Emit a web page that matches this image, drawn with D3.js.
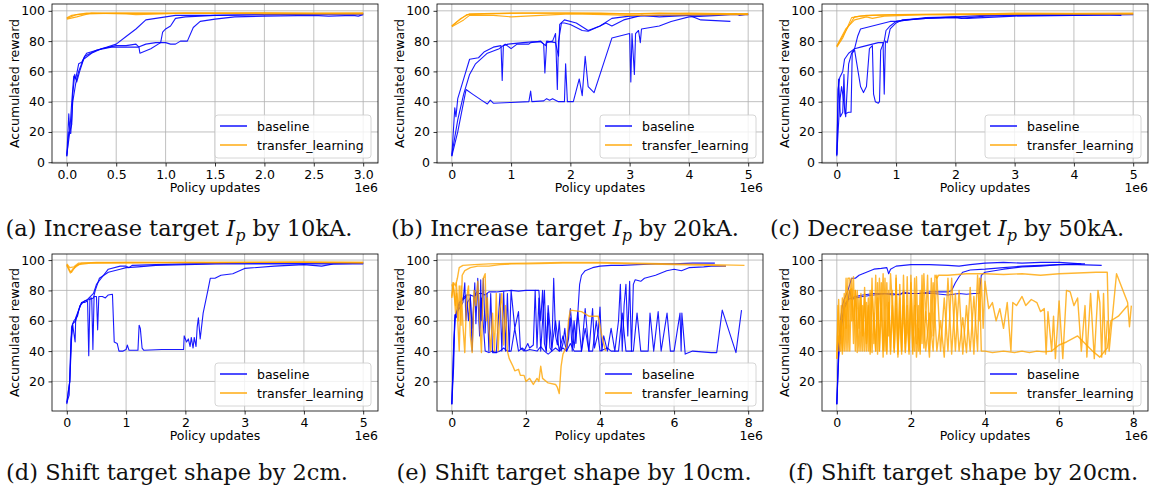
<!DOCTYPE html>
<html>
<head>
<meta charset="utf-8">
<script src="https://cdn.jsdelivr.net/npm/d3@7"></script>
<style>
  body { margin: 0; background: #fff; }
  svg { display: block; }
  .tick text { font-family: "DejaVu Sans", sans-serif; font-size: 12.5px; fill: #000; }
</style>
</head>
<body>
<svg id="chart" width="1153" height="495"></svg>
<script>
// x values are policy updates in units of 1e6, y is accumulated reward

// (a) increase target Ip by 10kA
var baselineA = [
  [[0,4],[0.02,32],[0.03,20],[0.05,40],[0.07,57],[0.09,55],[0.12,65],[0.15,66],[0.2,72],[0.3,74],[0.4,76],[0.5,78],[0.6,83],[0.7,88],[0.8,94],[1.0,96],[1.1,97],[1.2,97],[1.5,97],[2,97.5],[2.5,98],[3,98]],
  [[0,5],[0.03,20],[0.05,25],[0.06,45],[0.08,58],[0.1,53],[0.13,60],[0.17,68],[0.25,72],[0.35,75],[0.5,77],[0.6,77],[0.7,78],[0.73,76],[0.74,72],[0.85,75],[0.95,79],[0.97,86],[1.0,88],[1.05,90],[1.1,95],[1.2,96],[1.5,97],[2.0,97.5],[3.0,98]],
  [[0,4],[0.02,20],[0.04,19],[0.06,40],[0.09,52],[0.12,60],[0.18,70],[0.3,74],[0.45,76],[0.6,76],[0.72,76],[0.8,78],[0.9,79],[1.0,79],[1.05,78],[1.1,78],[1.15,80],[1.22,80],[1.28,89],[1.35,93],[1.5,94.5],[1.7,96],[2.0,96.5],[2.5,97],[2.65,96.5],[2.9,97],[2.95,96.5],[3.0,97.5]]
];
var transferA = [
  [[0,95],[0.1,97.5],[0.2,98],[0.5,98.5],[1,98.5],[2,98.5],[3,98.5]],
  [[0,94.5],[0.1,96],[0.25,98.5],[0.6,98],[0.7,97.5],[1.2,98.5],[2,98],[3,98]],
  [[0,95.5],[0.05,97],[0.2,98.5],[1,98.3],[2,98.7],[2.5,98.3],[3,98.5]]
];

// (b) increase target Ip by 20kA
var baselineB = [
  [[0,4],[0.05,36],[0.07,30],[0.1,42],[0.2,55],[0.3,68],[0.45,69],[0.55,73],[0.7,76],[0.83,77],[0.85,54],[0.87,77],[0.95,78],[1.2,79],[1.35,79.5],[1.5,79.5],[1.55,78],[1.57,59],[1.6,79],[1.7,80],[1.75,85],[1.78,48],[1.8,80],[1.85,92],[1.9,92],[2.0,91],[2.2,87],[2.3,86.5],[2.5,90],[2.7,95],[3.0,96.5],[3.5,97],[4.0,97],[4.2,94],[4.7,93]],
  [[0,5],[0.1,28],[0.2,45],[0.3,58],[0.4,65],[0.6,72],[0.8,75],[0.9,78],[1.0,75],[1.1,78],[1.3,78],[1.33,79],[1.5,80],[1.58,77],[1.6,80],[1.75,79],[1.8,70],[1.82,91],[1.9,94],[2.1,92],[2.3,87],[2.5,90],[2.6,92],[2.7,90],[2.9,94],[3.2,97],[3.5,96],[4,97],[4.5,97.5],[5,97.5]],
  [[0,4],[0.1,20],[0.2,40],[0.24,48],[0.35,45],[0.5,41],[0.6,38.5],[0.65,41],[0.7,39],[1.0,39.5],[1.3,40],[1.33,47],[1.35,40],[1.55,40.5],[1.6,42],[1.65,41],[1.7,42],[1.8,40],[1.9,40],[1.92,65],[1.95,40],[2.05,40],[2.15,55],[2.2,44],[2.25,70],[2.3,50],[2.4,46],[2.7,82],[3.0,85],[3.02,53],[3.04,85],[3.08,58],[3.1,85],[3.15,87],[3.18,79],[3.2,88],[3.5,90],[3.7,93],[4.0,96],[4.5,97],[4.8,98],[4.85,97],[5,98]]
];
var transferB = [
  [[0,90],[0.15,95],[0.3,98],[1.0,98.5],[2.0,98.5],[2.5,98.5],[3,98],[4,98.5],[5,98]],
  [[0,89.5],[0.2,94],[0.3,97],[0.7,97],[1.0,96],[1.5,97],[2,98],[2.6,97.5],[3,97],[4.5,97.5],[5,97.5]],
  [[0,90],[0.1,93],[0.25,97.5],[0.6,98],[1.2,98.5],[2,98.5],[3,98],[3.5,98.5],[4,98],[5,98]]
];

// (c) decrease target Ip by 50kA
var baselineC = [
  [[0,4],[0.02,48],[0.05,56],[0.1,60],[0.13,68],[0.2,72],[0.3,75],[0.35,83],[0.4,88],[0.5,89],[0.7,91],[0.9,93],[1.0,93],[1.2,94],[1.5,95],[2,96],[2.5,97],[3,97.5],[4,97.5],[4.8,97.5]],
  [[0,5],[0.03,55],[0.06,30],[0.1,33],[0.12,58],[0.14,32],[0.2,33],[0.24,33],[0.26,72],[0.3,74],[0.4,50],[0.45,46],[0.5,50],[0.55,75],[0.6,77],[0.62,45],[0.65,40],[0.7,39],[0.72,40],[0.74,74],[0.76,76],[0.8,80],[0.83,87],[0.9,90],[1.0,93],[1.2,94],[1.5,95.5],[2,96],[2.1,95],[2.5,96.5],[3,97],[4,97],[5,97.5]],
  [[0,5],[0.05,40],[0.08,50],[0.1,45],[0.15,30],[0.17,45],[0.2,65],[0.25,72],[0.3,75],[0.4,76],[0.5,77],[0.6,78],[0.7,79],[0.78,79],[0.8,45],[0.82,80],[0.85,79],[0.9,88],[1.0,92],[1.1,94],[1.5,95],[2,95.5],[2.2,95],[3,96.5],[4,97],[4.5,97.5],[4.8,97]]
];
var transferC = [
  [[0,76],[0.1,82],[0.25,95.5],[0.4,96.5],[0.6,97],[1,97.5],[2,98],[3,98],[4,98],[5,98]],
  [[0,77],[0.15,88],[0.3,94],[0.5,96],[0.6,95],[0.8,96.5],[1.5,97.5],[2.5,97.5],[3.5,98],[5,98]],
  [[0,76.5],[0.2,90],[0.3,96],[0.5,97],[1,97.5],[2,97.5],[3,98.5],[4,98.3],[5,98.5]]
];

// (d) shift target shape by 2cm
var baselineD = [
  [[0,5],[0.03,15],[0.05,20],[0.08,48],[0.1,58],[0.15,60],[0.2,67],[0.25,72],[0.3,73],[0.35,74],[0.4,76],[0.45,78],[0.5,84],[0.6,89],[0.7,94],[0.9,96],[1.0,96],[1.05,95],[1.1,96.5],[1.5,97],[2,97.5],[3,98],[4,98],[5,98]],
  [[0,6],[0.04,11],[0.07,48],[0.1,57],[0.14,46],[0.15,62],[0.25,72],[0.3,72],[0.35,73],[0.37,37],[0.39,75],[0.42,75],[0.44,41],[0.46,76],[0.5,76],[0.52,54],[0.54,76],[0.6,76],[0.65,75],[0.7,77],[0.77,77.5],[0.8,46],[0.85,45],[0.88,40],[0.95,40],[1.0,41],[1.02,44],[1.05,40.5],[1.2,40.5],[1.22,57],[1.24,55],[1.27,42],[1.3,40.5],[1.6,41],[1.9,41],[1.97,41],[1.98,50],[2.02,46],[2.05,48],[2.08,43],[2.1,49],[2.13,42],[2.15,49],[2.18,43],[2.2,56],[2.22,62],[2.25,48],[2.3,65],[2.38,80],[2.42,88],[2.5,88],[2.6,90],[2.8,91],[3.0,94.5],[3.5,96],[4,97],[4.3,96],[4.5,97.5],[5,98]],
  [[0,6],[0.05,20],[0.08,56],[0.12,60],[0.18,63],[0.22,70],[0.3,73],[0.38,74],[0.45,75],[0.48,80],[0.55,88],[0.7,92],[0.9,94],[1.0,95],[1.2,95.5],[1.5,96.5],[2,97],[2.5,97.5],[3,97.5],[4,97.5],[5,97.5]]
];
var transferD = [
  [[0,97],[0.05,93],[0.08,92],[0.15,96],[0.25,98],[0.5,98.5],[1,98.5],[3,98.5],[5,98.5]],
  [[0,96.5],[0.06,91.5],[0.1,94],[0.2,97],[0.4,98],[1,98],[2,98.5],[4,98.5],[5,98]],
  [[0,97.5],[0.05,95],[0.12,95.5],[0.2,98],[1,98.5],[2.5,98.2],[4,98.8],[5,98.5]]
];

// (e) shift target shape by 10cm
var baselineE = [
  [[0,5],[0.05,40],[0.08,64],[0.12,62],[0.2,70],[0.3,75],[0.4,77],[0.5,77],[0.6,76],[0.7,78],[0.8,78],[0.9,77],[1.0,79],[1.2,79],[1.4,79.5],[1.6,80],[1.8,79.5],[2.0,80],[2.2,80],[2.35,80],[2.4,60],[2.45,80],[2.5,45],[2.55,40],[2.6,65],[2.65,42],[2.7,40],[2.75,88],[2.8,50],[2.85,44],[2.9,60],[2.95,40],[3.0,45],[3.05,55],[3.1,42],[3.15,48],[3.2,62],[3.25,40],[3.3,60],[3.35,45],[3.45,84],[3.5,90],[3.6,93],[3.8,95],[4.0,96],[4.3,96.5],[4.6,96.5],[5.0,97],[5.5,97.5],[6.0,97.5],[6.5,98],[7.1,98]],
  [[0,5],[0.05,30],[0.08,60],[0.12,65],[0.2,68],[0.25,70],[0.3,72],[0.35,85],[0.38,60],[0.42,72],[0.5,75],[0.55,55],[0.6,75],[0.62,85],[0.65,58],[0.7,88],[0.75,55],[0.78,87],[0.8,60],[0.85,88],[0.9,52],[0.95,78],[1.0,40],[1.05,78],[1.1,39],[1.2,39],[1.3,78],[1.35,40],[1.4,79],[1.45,40],[1.5,78],[1.55,40],[1.6,80],[1.7,55],[1.8,66],[1.85,42],[1.95,40],[2.05,45],[2.1,42],[2.2,44],[2.25,80],[2.3,42],[2.35,75],[2.4,40],[2.5,80],[2.55,40],[2.6,70],[2.7,42],[2.8,60],[2.9,40],[3.0,50],[3.1,40],[3.2,68],[3.3,42],[3.4,66],[3.5,40],[3.6,55],[3.7,40],[3.8,68],[3.85,42],[3.95,52],[4.0,69],[4.05,40],[4.1,50],[4.2,40],[4.3,55],[4.4,40],[4.5,60],[4.55,84],[4.6,40],[4.65,70],[4.7,84],[4.75,50],[4.8,86],[4.85,40],[4.9,84],[4.95,87],[5.1,86],[5.2,88],[5.5,90],[5.8,93],[6.0,94],[6.2,93],[6.4,95],[6.8,95.5],[7.0,96],[7.4,96]],
  [[0,5],[0.05,45],[0.1,64],[0.15,68],[0.2,72],[0.3,74],[0.4,76],[0.45,60],[0.5,77],[0.55,40],[0.6,76],[0.7,80],[0.75,50],[0.8,75],[0.9,40],[1.0,39],[1.1,40],[1.2,39],[1.3,40],[1.4,42],[1.5,40],[1.6,40],[1.7,55],[1.8,40],[1.9,42],[2.0,40],[2.1,41],[2.3,40],[2.4,43],[2.5,40],[2.6,38],[2.7,40],[2.8,42],[2.9,40],[3.0,42],[3.1,40],[3.2,45],[3.3,40],[3.5,40],[3.6,68],[3.7,40],[3.8,40],[3.9,60],[4.0,40],[4.2,42],[4.3,40],[4.5,40],[4.6,65],[4.7,40],[4.9,40],[5.0,65],[5.1,40],[5.3,40],[5.35,65],[5.45,40],[5.57,66],[5.65,40],[5.81,65],[5.9,40],[6.0,40],[6.16,65],[6.19,40],[6.21,65],[6.3,38],[6.5,40],[7.0,39],[7.15,39],[7.3,67],[7.67,39],[7.82,67]]
];
var transferE = [
  [[0,76],[0.05,85],[0.1,83],[0.15,88],[0.2,95],[0.3,96.5],[0.6,97],[1.0,97.5],[2,98],[3,98.5],[4,98.5],[5,98],[6,97.5],[7,97],[7.9,96.5]],
  [[0,84],[0.05,80],[0.1,70],[0.12,85],[0.15,75],[0.18,60],[0.2,83],[0.25,57],[0.28,90],[0.35,93],[0.5,95],[0.7,96],[1.0,96],[1.3,97],[1.6,97.5],[2,97.5],[3,98],[4,98],[5,97.5],[6,97],[7,96.5],[7.4,96]],
  [[0,75],[0.03,85],[0.06,80],[0.1,65],[0.13,78],[0.16,60],[0.2,40],[0.25,83],[0.3,57],[0.35,39],[0.4,75],[0.45,83],[0.5,50],[0.55,39],[0.6,80],[0.65,70],[0.7,86],[0.75,60],[0.8,39],[0.85,88],[0.9,91],[0.93,60],[0.96,75],[1.0,55],[1.05,40],[1.1,65],[1.15,40],[1.2,78],[1.25,40],[1.3,68],[1.35,78],[1.4,44],[1.45,70],[1.5,40],[1.55,35],[1.65,30],[1.7,27],[1.8,28],[1.85,24],[1.95,24],[2.0,20],[2.1,22],[2.15,20],[2.2,18],[2.3,22],[2.35,20],[2.4,30],[2.45,22],[2.6,19],[2.8,18],[2.85,16],[2.9,12],[2.95,30],[3.0,38],[3.1,43],[3.15,60],[3.2,67],[3.5,66],[3.7,63],[3.95,63],[4.05,50],[4.15,40]]
];

// (f) shift target shape by 20cm
var baselineF = [
  [[0,5],[0.05,40],[0.1,60],[0.15,70],[0.2,74],[0.3,80],[0.35,84],[0.4,88],[0.5,88],[0.6,90],[0.8,92],[1.0,94],[1.2,94.5],[1.35,95],[1.4,91],[1.45,94],[1.6,96],[2,97],[2.5,97],[3,96.5],[3.3,96],[3.6,97],[4,98],[4.5,98.5],[5,98],[5.5,98.5],[6,98.5],[6.3,98],[6.6,97.5]],
  [[0,5],[0.05,35],[0.1,52],[0.2,68],[0.3,73],[0.35,80],[0.4,74],[0.5,75],[0.7,76],[1.0,77],[1.2,77.5],[1.5,78],[1.7,77],[1.8,79],[2.0,78],[2.2,78],[2.5,79],[2.8,79],[3.0,79],[3.1,80],[3.2,85],[3.3,89],[3.4,92],[3.6,93.5],[4.0,94],[4.5,95],[5,96],[5.5,96.5],[6,97],[6.5,97],[7.15,96.5]],
  [[0,5],[0.05,45],[0.1,55],[0.2,70],[0.3,74],[0.5,76],[0.7,77],[1.0,78],[1.3,78],[1.5,77],[1.8,78],[2.2,78],[2.6,78],[3.0,77],[3.3,78],[3.5,77.5],[3.7,78],[3.85,78],[3.9,90],[4.0,92],[4.5,94],[5,95.5],[5.5,96],[6,97],[6.5,97.5],[6.7,97.5]]
];
var transferF = [
  [[0,35],[0.05,74],[0.08,45],[0.12,70],[0.15,40],[0.2,78],[0.25,40],[0.3,88],[0.35,88],[0.4,60],[0.45,89],[0.5,40],[0.55,80],[0.6,55],[0.65,78],[0.7,40],[0.75,82],[0.8,45],[0.85,75],[0.9,40],[0.95,88],[1.0,45],[1.05,90],[1.1,38],[1.15,88],[1.2,60],[1.25,91],[1.3,40],[1.35,85],[1.4,50],[1.45,91],[1.5,70],[1.55,39],[1.6,88],[1.65,40],[1.7,75],[1.75,38],[1.8,90],[1.85,45],[1.9,70],[1.95,40],[2.0,90],[2.05,55],[2.1,40],[2.15,89],[2.2,40],[2.25,80],[2.3,45],[2.35,91],[2.4,60],[2.45,90],[2.5,40],[2.55,88],[2.6,50],[2.65,90],[2.7,88],[2.75,90],[3.0,90],[3.5,91],[4.0,91],[4.5,90.5],[5.0,91],[5.5,90],[6.0,91],[6.5,91.5],[7.0,92],[7.3,92],[7.35,40],[7.55,91],[7.85,72],[7.9,56],[7.95,70]],
  [[0,40],[0.05,50],[0.1,40],[0.15,75],[0.2,40],[0.25,88],[0.3,40],[0.35,80],[0.4,81],[0.45,60],[0.5,80],[0.55,39],[0.6,75],[0.65,40],[0.7,70],[0.75,40],[0.8,72],[0.85,40],[0.9,80],[0.95,39],[1.0,65],[1.05,40],[1.1,75],[1.15,40],[1.2,85],[1.25,40],[1.3,60],[1.35,38],[1.4,80],[1.45,40],[1.5,70],[1.55,42],[1.6,90],[1.65,38],[1.7,66],[1.75,40],[1.8,80],[1.85,40],[1.9,60],[1.95,38],[2.0,85],[2.05,40],[2.1,70],[2.15,36],[2.2,55],[2.25,40],[2.3,80],[2.4,40],[2.5,65],[2.6,40],[2.7,90],[2.8,40],[2.9,75],[3.0,40],[3.1,88],[3.2,40],[3.3,80],[3.4,38],[3.5,70],[3.6,40],[3.7,76],[3.8,40],[3.85,88],[3.9,40],[4.0,40],[4.2,39],[4.5,40],[4.8,39],[5.0,40],[5.2,39],[5.4,40],[5.6,39.5],[5.8,40],[6.0,44],[6.2,46],[6.5,50],[6.7,45],[6.9,40],[7.1,36],[7.3,42],[7.4,60],[7.6,63],[7.85,70]],
  [[0,35],[0.03,70],[0.06,40],[0.1,60],[0.15,38],[0.2,74],[0.25,55],[0.3,80],[0.35,40],[0.4,88],[0.45,45],[0.5,80],[0.55,60],[0.6,40],[0.65,75],[0.7,50],[0.75,78],[0.8,40],[0.85,70],[0.9,38],[0.95,80],[1.0,60],[1.05,40],[1.1,85],[1.15,40],[1.2,68],[1.25,36],[1.3,88],[1.35,40],[1.4,72],[1.45,38],[1.5,80],[1.55,40],[1.6,68],[1.65,36],[1.7,84],[1.75,40],[1.8,70],[1.85,39],[1.9,89],[1.95,40],[2.0,75],[2.05,38],[2.1,88],[2.15,45],[2.2,70],[2.25,38],[2.3,90],[2.35,42],[2.4,66],[2.5,36],[2.6,85],[2.7,40],[2.8,60],[2.9,36],[3.0,88],[3.1,38],[3.2,78],[3.3,40],[3.4,62],[3.5,39],[3.6,82],[3.7,38],[3.8,90],[3.85,60],[3.9,88],[3.95,55],[4.0,86],[4.1,68],[4.2,72],[4.3,60],[4.4,68],[4.5,55],[4.6,72],[4.7,40],[4.75,72],[4.85,70],[5.0,76],[5.1,70],[5.25,74],[5.4,72],[5.5,66],[5.6,68],[5.65,38],[5.7,66],[5.8,40],[5.85,63],[5.9,35],[6.0,73],[6.1,35],[6.2,80],[6.3,79],[6.4,70],[6.5,75],[6.6,40],[6.7,70],[6.75,36],[6.85,78],[6.95,35],[7.0,58],[7.05,80],[7.1,72],[7.15,36],[7.2,78],[7.25,38],[7.3,60]]
];

var xTicksA = [0, 0.5, 1.0, 1.5, 2.0, 2.5, 3.0];
var xTicks5 = [0, 1, 2, 3, 4, 5];
var xTicks8 = [0, 2, 4, 6, 8];
var yTicksTop = [0, 20, 40, 60, 80, 100];
var yTicksBottom = [20, 40, 60, 80, 100];

var seriesNames = ["baseline", "transfer_learning"];
var seriesColors = ["#0000ff", "#ffa500"];

var panels = [
  { base: baselineA, tl: transferA, xMax: 3, xTicks: xTicksA, xFmt: ".1f", row: 0, col: 0, capX: 179, label: "(a) Increase target ", tail: " by 10kA." },
  { base: baselineB, tl: transferB, xMax: 5, xTicks: xTicks5, xFmt: "d", row: 0, col: 1, capX: 180, label: "(b) Increase target ", tail: " by 20kA." },
  { base: baselineC, tl: transferC, xMax: 5, xTicks: xTicks5, xFmt: "d", row: 0, col: 2, capX: 177, label: "(c) Decrease target ", tail: " by 50kA." },
  { base: baselineD, tl: transferD, xMax: 5, xTicks: xTicks5, xFmt: "d", row: 1, col: 0, capX: 177, label: "(d) Shift target shape by 2cm." },
  { base: baselineE, tl: transferE, xMax: 8, xTicks: xTicks8, xFmt: "d", row: 1, col: 1, capX: 189, label: "(e) Shift target shape by 10cm." },
  { base: baselineF, tl: transferF, xMax: 8, xTicks: xTicks8, xFmt: "d", row: 1, col: 2, capX: 193, label: "(f) Shift target shape by 20cm." }
];

var svg = d3.select("#chart");
var colX = [0, 385, 770];
var rowY = [0, 245];

panels.forEach(function (p) {
  var ox = colX[p.col], oy = rowY[p.row];
  var left = 52, right = 378;
  var top = p.row === 0 ? 4 : 9;
  var bottom = p.row === 0 ? 163 : 166;
  var g = svg.append("g").attr("transform", "translate(" + ox + "," + oy + ")");

  var x = d3.scaleLinear().domain([-0.05 * p.xMax, 1.05 * p.xMax]).range([left, right]);
  var y = d3.scaleLinear()
    .domain(p.row === 0 ? [-0.5, 104.5] : [0.5, 104])
    .range([bottom, top]);
  var yTicks = p.row === 0 ? yTicksTop : yTicksBottom;

  // grid
  g.append("g").selectAll("line").data(p.xTicks).join("line")
    .attr("x1", function (d) { return x(d); }).attr("x2", function (d) { return x(d); })
    .attr("y1", top).attr("y2", bottom)
    .attr("stroke", "#b0b0b0").attr("stroke-width", 0.8);
  g.append("g").selectAll("line").data(yTicks).join("line")
    .attr("y1", function (d) { return y(d); }).attr("y2", function (d) { return y(d); })
    .attr("x1", left).attr("x2", right)
    .attr("stroke", "#b0b0b0").attr("stroke-width", 0.8);

  var line = d3.line()
    .x(function (d) { return x(d[0]); })
    .y(function (d) { return y(d[1]); });

  // transfer learning drawn after baseline (on top)
  [p.base, p.tl].forEach(function (runs, i) {
    g.append("g").selectAll("path").data(runs).join("path")
      .attr("d", line)
      .attr("fill", "none")
      .attr("stroke", seriesColors[i])
      .attr("stroke-opacity", i === 1 && p.row === 1 ? 0.8 : 0.9)
      .attr("stroke-width", i === 1 && p.row === 1 ? 1.4 : 1.1)
      .attr("stroke-linejoin", "round");
  });

  // spines
  g.append("rect")
    .attr("x", left).attr("y", top)
    .attr("width", right - left).attr("height", bottom - top)
    .attr("fill", "none").attr("stroke", "#000").attr("stroke-width", 0.8);

  var xAxis = g.append("g").attr("transform", "translate(0," + bottom + ")")
    .call(d3.axisBottom(x).tickValues(p.xTicks).tickFormat(d3.format(p.xFmt)).tickSize(3.5).tickPadding(3.5));
  var yAxis = g.append("g").attr("transform", "translate(" + left + ",0)")
    .call(d3.axisLeft(y).tickValues(yTicks).tickSize(3.5).tickPadding(3.5));
  [xAxis, yAxis].forEach(function (a) {
    a.select(".domain").remove();
    a.selectAll(".tick line").attr("stroke", "#000").attr("stroke-width", 0.8);
  });

  g.append("text")
    .attr("x", (left + right) / 2).attr("y", bottom + 29)
    .attr("text-anchor", "middle")
    .style("font-family", "DejaVu Sans, sans-serif").style("font-size", "12.5px")
    .text("Policy updates");
  g.append("text")
    .attr("x", right).attr("y", bottom + 29)
    .attr("text-anchor", "end")
    .style("font-family", "DejaVu Sans, sans-serif").style("font-size", "12.5px")
    .text("1e6");
  g.append("text")
    .attr("transform", "translate(19," + (top + bottom) / 2 + ") rotate(-90)")
    .attr("text-anchor", "middle")
    .style("font-family", "DejaVu Sans, sans-serif").style("font-size", "12.5px")
    .text("Accumulated reward");

  // legend
  var lg = g.append("g");
  lg.append("rect")
    .attr("x", right - 163).attr("y", bottom - 48)
    .attr("width", 156).attr("height", 43).attr("rx", 3)
    .attr("fill", "#fff").attr("fill-opacity", 0.8)
    .attr("stroke", "#cccccc").attr("stroke-width", 0.8);
  seriesNames.forEach(function (name, i) {
    var ly = bottom - 37 + i * 19;
    lg.append("line")
      .attr("x1", right - 158).attr("x2", right - 131)
      .attr("y1", ly).attr("y2", ly)
      .attr("stroke", seriesColors[i]).attr("stroke-width", 1.4);
    lg.append("text")
      .attr("x", right - 121).attr("y", ly + 4.5)
      .style("font-family", "DejaVu Sans, sans-serif").style("font-size", "12.5px")
      .text(name);
  });

  // caption
  var cap = svg.append("text")
    .attr("x", ox + p.capX).attr("y", p.row === 0 ? 236 : 480)
    .attr("text-anchor", "middle")
    .style("font-family", "DejaVu Serif, serif").style("font-size", "22.5px")
    .style("fill", "#111");
  cap.append("tspan").text(p.label);
  if (p.tail) {
    cap.append("tspan").style("font-style", "italic").text("I");
    cap.append("tspan").attr("dy", 5).style("font-style", "italic").style("font-size", "16px").text("p");
    cap.append("tspan").attr("dy", -5).text(p.tail);
  }
});
</script>
</body>
</html>
